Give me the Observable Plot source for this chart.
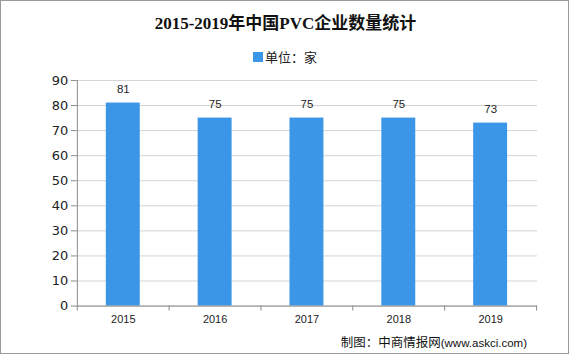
<!DOCTYPE html>
<html>
<head>
<meta charset="utf-8">
<script src="https://cdn.jsdelivr.net/npm/d3@7"></script>
<script src="https://cdn.jsdelivr.net/npm/@observablehq/plot@0.6"></script>
<style>
  html, body { margin: 0; padding: 0; background: #fff; }
  #wrap { position: relative; width: 569px; height: 354px; box-sizing: border-box; border: 1px solid #9a9a9a; overflow: hidden; background: #fff; }
  #title { position: absolute; left: 0; width: 569px; top: 12px; text-align: center; font-family: "Liberation Serif", "Noto Sans CJK SC", serif; font-weight: bold; font-size: 17px; color: #111; line-height: 22px; }
  #legend { position: absolute; left: 252px; top: 47px; font-family: "Noto Sans CJK SC", sans-serif; font-size: 13px; color: #222; line-height: 17px; display: flex; align-items: center; }
  #legend .sw { display: inline-block; width: 10px; height: 10px; margin-right: 2px; }
  #chart { position: absolute; left: -1px; top: 63px; }
  #caption { position: absolute; right: 41px; top: 332px; font-family: "Noto Sans CJK SC", sans-serif; font-size: 12.5px; color: #111; line-height: 18px; }
  #caption .en { font-family: "Liberation Sans", sans-serif; font-size: 11.5px; }
</style>
</head>
<body>
<div id="wrap">
  <div id="title"></div>
  <div id="legend"></div>
  <div id="chart"></div>
  <div id="caption"></div>
</div>
<script>
const titleText = "2015-2019年中国PVC企业数量统计";
const seriesName = "单位：家";
const years = ["2015", "2016", "2017", "2018", "2019"];
const counts = [81, 75, 75, 75, 73];
const yTicks = [0, 10, 20, 30, 40, 50, 60, 70, 80, 90];
const captionCn = "制图：中商情报网";
const captionEn = "(www.askci.com)";
const barColor = "#3c96e8";

const data = years.map((y, i) => ({year: y, value: counts[i]}));

document.getElementById("title").textContent = titleText;
document.getElementById("legend").innerHTML =
  `<span class="sw" style="background:${barColor}"></span><span>${seriesName}</span>`;
document.getElementById("caption").innerHTML =
  `${captionCn}<span class="en">${captionEn}</span>`;

const W = 569, H = 270;
const mL = 77, mR = 31, mT = 16, mB = 28;
const step = (W - mL - mR) / years.length;

const chart = Plot.plot({
  width: W,
  height: H,
  marginLeft: mL,
  marginRight: mR,
  marginTop: mT,
  marginBottom: mB,
  style: { fontFamily: "Liberation Sans, sans-serif", background: "transparent", overflow: "visible" },
  x: { domain: years, paddingInner: 0.63, paddingOuter: 0.315, label: null },
  y: { domain: [0, 90], label: null },
  marks: [
    Plot.gridY(yTicks, { stroke: "#d4d4d4", strokeOpacity: 1 }),
    Plot.barY(data, { x: "year", y: "value", fill: barColor }),
    Plot.ruleY([0], { stroke: "#8c8c8c" }),
    Plot.frame({ anchor: "left", stroke: "#8c8c8c" }),
    Plot.ruleX(years, { x: d => d, dx: -step / 2, y1: 0, y2: -2, stroke: "#8c8c8c" }),
    Plot.ruleX(years.slice(-1), { x: d => d, dx: step / 2, y1: 0, y2: -2, stroke: "#8c8c8c" }),
    Plot.axisY({ ticks: yTicks, tickSize: 6, tickPadding: 3, fontSize: 13, fontFamily: "DejaVu Sans, sans-serif", stroke: "#8c8c8c", fill: "#222", label: null }),
    Plot.axisX({ tickSize: 0, tickPadding: 9, fontSize: 11, fill: "#222", label: null }),
    Plot.text(data, { x: "year", y: "value", text: d => String(d.value), dy: -14, fontSize: 11.5, fill: "#222" })
  ]
});
document.getElementById("chart").appendChild(chart);
</script>
</body>
</html>
